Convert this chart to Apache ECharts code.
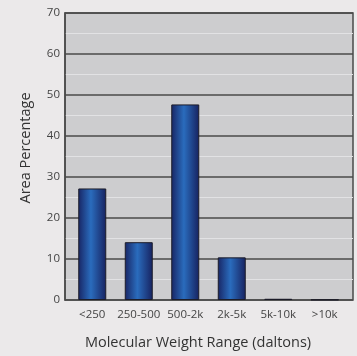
<!DOCTYPE html>
<html>
<head>
<meta charset="utf-8">
<script src="https://cdn.jsdelivr.net/npm/echarts@6/dist/echarts.min.js"></script>
<style>
  html, body { margin: 0; padding: 0; background: #ebe9ea; }
  #chart { width: 357px; height: 356px; }
</style>
</head>
<body>
<div id="chart"></div>
<script>
// Molecular weight distribution (area % per range)
const categories = ['<250', '250-500', '500-2k', '2k-5k', '5k-10k', '>10k'];
const areaPercent = [27.2, 14.1, 47.7, 10.4, 0.3, 0.1];
const yTicks = [0, 10, 20, 30, 40, 50, 60, 70];

const chart = echarts.init(document.getElementById('chart'));
const font = '"Open Sans", "Noto Sans", sans-serif';

const barFill = new echarts.graphic.LinearGradient(0, 0, 1, 0, [
  { offset: 0, color: '#182564' },
  { offset: 0.45, color: '#2a6cbd' },
  { offset: 1, color: '#172260' }
]);

chart.setOption({
  backgroundColor: '#ebe9ea',
  animation: false,
  grid: [
    { left: 65, right: 4, top: 13, bottom: 56, show: true,
      backgroundColor: '#cdcdcf', borderColor: '#4a4a4a', borderWidth: 1.5 },
    { left: 69, right: 9, top: 13, bottom: 56 }
  ],
  xAxis: [
    { gridIndex: 0, type: 'category', data: categories, show: false },
    { gridIndex: 1, type: 'category', data: categories,
      axisLine: { show: false }, axisTick: { show: false },
      axisLabel: { interval: 0, color: '#444', fontSize: 11.5, fontFamily: font, margin: 9 } }
  ],
  yAxis: [
    { gridIndex: 0, type: 'value', min: yTicks[0], max: yTicks[yTicks.length - 1], interval: 10,
      axisLine: { show: true, lineStyle: { color: '#4a4a4a', width: 1.5 } },
      axisTick: { show: false },
      axisLabel: { color: '#444', fontSize: 11.5, fontFamily: font, margin: 5 },
      splitLine: { show: true, lineStyle: { color: '#4a4a4a', width: 1.5 } },
      minorTick: { show: false, splitNumber: 2 },
      minorSplitLine: { show: true, lineStyle: { color: '#e2e2e4', width: 1 } } },
    { gridIndex: 1, type: 'value', min: yTicks[0], max: yTicks[yTicks.length - 1], show: false,
      splitLine: { show: false } }
  ],
  graphic: [
    { type: 'text', x: 198, y: 343, style: {
        text: 'Molecular Weight Range (daltons)', fill: '#333',
        font: '14.5px ' + font, textAlign: 'center', textVerticalAlign: 'middle' } },
    { type: 'text', x: 26, y: 148, rotation: Math.PI / 2, style: {
        text: 'Area Percentage', fill: '#333',
        font: '14.5px ' + font, textAlign: 'center', textVerticalAlign: 'middle' } }
  ],
  series: [{
    type: 'bar', xAxisIndex: 1, yAxisIndex: 1,
    data: areaPercent, barWidth: 28,
    itemStyle: { color: barFill, borderColor: '#1c1c28', borderWidth: 1 }
  }]
});
</script>
</body>
</html>
